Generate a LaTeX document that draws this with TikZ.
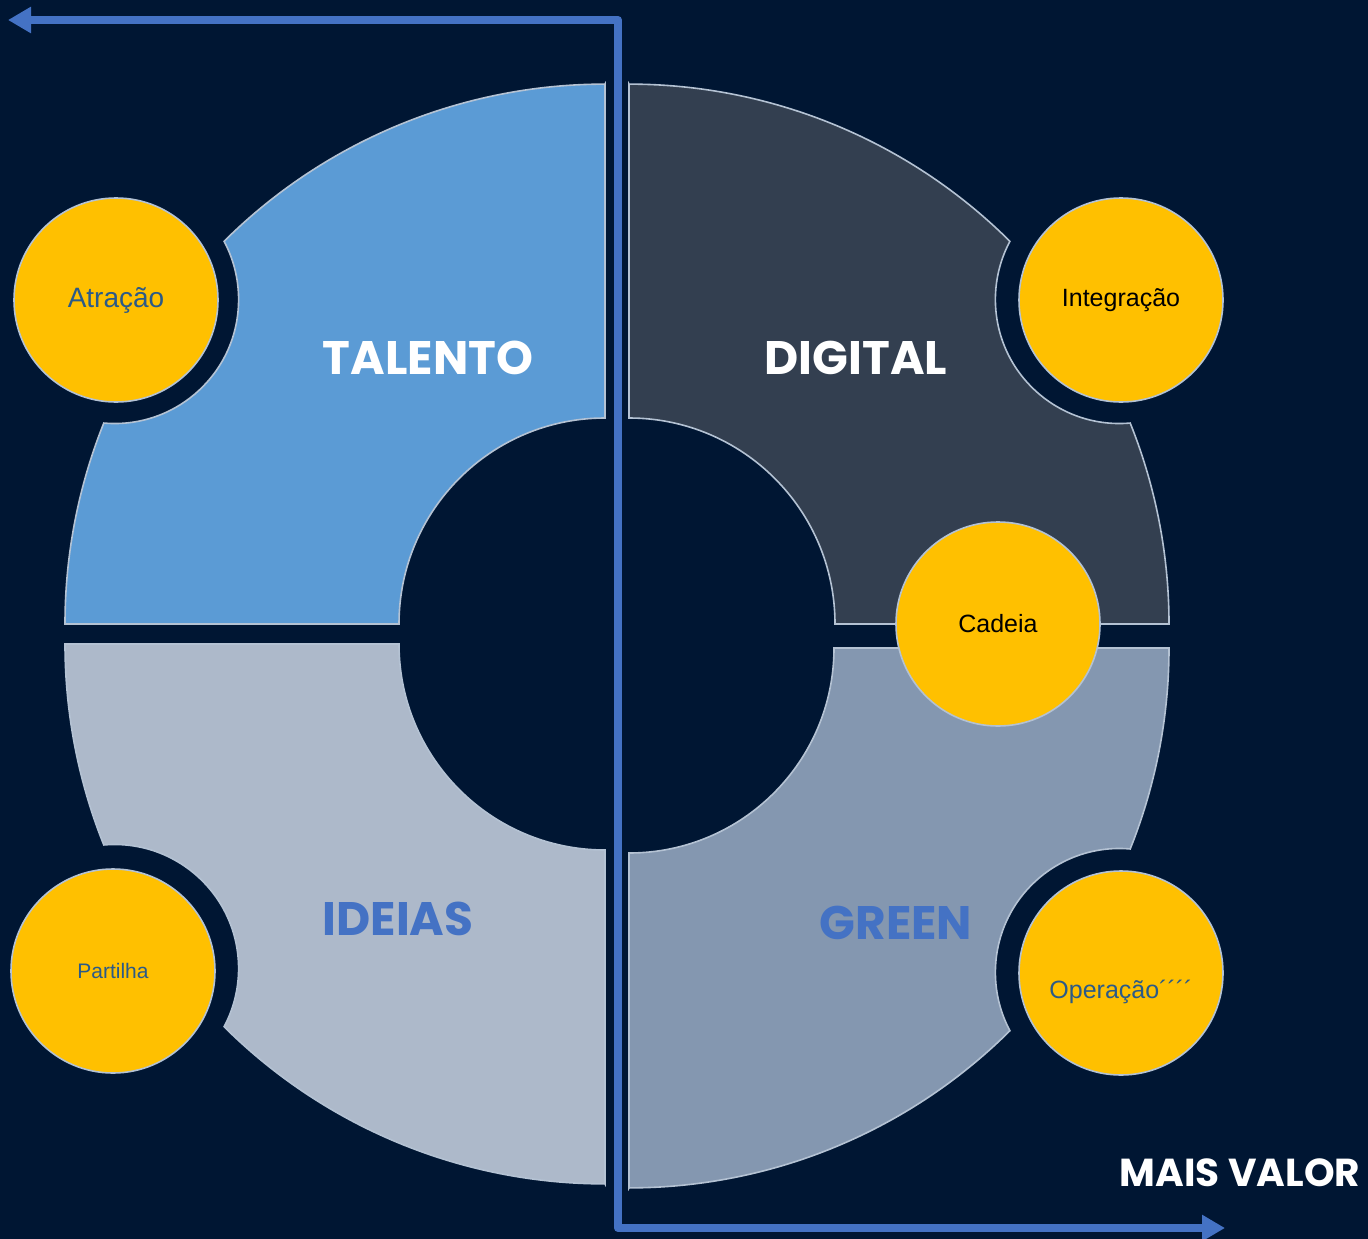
\documentclass[tikz,border=0pt]{standalone}
\usepackage{fontspec}
\setmainfont{Liberation Sans}
\newfontfamily\headfont{Poppins}
\usetikzlibrary{arrows.meta}
\definecolor{navy}{HTML}{001633}
\definecolor{talento}{HTML}{5B9BD5}
\definecolor{digital}{HTML}{333F50}
\definecolor{ideias}{HTML}{ADB9CA}
\definecolor{greenq}{HTML}{8497B0}
\definecolor{amarelo}{HTML}{FFC000}
\definecolor{azul}{HTML}{4472C4}
\definecolor{rim}{HTML}{B4C2D3}
\definecolor{texto}{HTML}{2B5A88}
\begin{document}
\begin{tikzpicture}[x=1pt,y=-1pt]
  \tikzstyle{quad}=[draw=rim,line width=1.6pt]
  \tikzstyle{disc}=[circle,fill=amarelo,draw=rim,line width=1.6pt,minimum size=204pt,inner sep=0pt,font=\fontsize{25}{27}\selectfont]
  \tikzstyle{head}=[font=\headfont\bfseries\fontsize{47}{50}\selectfont]
  \tikzstyle{valor}=[draw=azul,line width=8pt,line join=round,{Triangle[length=23pt,width=25pt]}-{Triangle[length=23pt,width=25pt]}]
  \useasboundingbox (0,0) rectangle (1368,1239);
  \fill[navy] (0,0) rectangle (1368,1239);

  \filldraw[quad,fill=talento] (605,84) -- (605,418) arc[start angle=270,end angle=180,radius=206] -- (65,624)
    arc[start angle=180,end angle=201.85,radius=540] arc[start angle=95,end angle=-28,radius=124]
    arc[start angle=225.15,end angle=270,radius=540] -- cycle;
  \filldraw[quad,fill=digital] (629,84) -- (629,418) arc[start angle=270,end angle=360,radius=206] -- (1169,624)
    arc[start angle=0,end angle=-21.85,radius=540] arc[start angle=85,end angle=208,radius=124]
    arc[start angle=-45.15,end angle=-90,radius=540] -- cycle;
  \filldraw[quad,fill=ideias] (605,1184) -- (605,850) arc[start angle=90,end angle=180,radius=206] -- (65,644)
    arc[start angle=180,end angle=158.15,radius=540] arc[start angle=-95,end angle=28,radius=124]
    arc[start angle=134.85,end angle=90,radius=540] -- cycle;
  \filldraw[quad,fill=greenq] (629,1188) -- (629,853) arc[start angle=90,end angle=0,radius=205] -- (1169,648)
    arc[start angle=0,end angle=21.85,radius=540] arc[start angle=275,end angle=152,radius=124]
    arc[start angle=45.15,end angle=90,radius=540] -- cycle;

  \node[head,text=white] (Q_1) at (428,358) {TALENTO};
  \node[head,text=white] (Q_2) at (856,358) {DIGITAL};
  \node[head,text=azul] (Q_3) at (398,919) {IDEIAS};
  \node[head,text=azul] (Q_4) at (896,923) {GREEN};

  \node[disc,text=texto,font=\fontsize{28}{30}\selectfont] (C_1) at (116,300) {Atração};
  \node[disc,text=black] (C_2) at (1121,300) {Integração};
  \node[disc,text=black] (C_3) at (998,624) {Cadeia};
  \node[disc,text=texto,font=\fontsize{21}{23}\selectfont] (C_4) at (113,971) {Partilha};
  \node[disc,text=texto] (C_5) at (1121,973) {\raisebox{-25pt}[0pt][0pt]{Operação´´´´}};

  \node[text=white,font=\headfont\bfseries\fontsize{39}{42}\selectfont] (V) at (1240,1173) {MAIS VALOR};

  \coordinate (A_1) at (8,20);
  \coordinate (A_2) at (618,20);
  \coordinate (A_3) at (618,1228);
  \coordinate (A_4) at (1225,1228);
  \draw[valor] (A_1) -- (A_2) -- (A_3) -- (A_4);
\end{tikzpicture}
\end{document}
